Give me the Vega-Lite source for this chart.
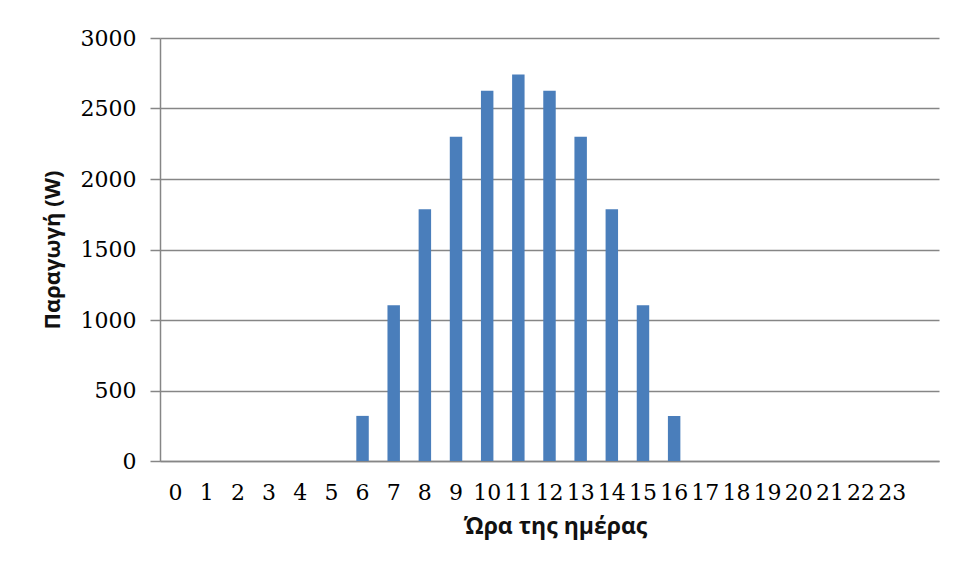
{
  "$schema": "https://vega.github.io/schema/vega-lite/v6.json",
  "autosize": {"type": "none"},
  "padding": {"left": 160, "top": 38, "right": 20, "bottom": 121},
  "width": 779,
  "height": 423,
  "background": "white",
  "data": {
    "values": [
      {"hour": 0, "power": 0}, {"hour": 1, "power": 0}, {"hour": 2, "power": 0},
      {"hour": 3, "power": 0}, {"hour": 4, "power": 0}, {"hour": 5, "power": 0},
      {"hour": 6, "power": 320}, {"hour": 7, "power": 1104}, {"hour": 8, "power": 1786},
      {"hour": 9, "power": 2300}, {"hour": 10, "power": 2626}, {"hour": 11, "power": 2742},
      {"hour": 12, "power": 2626}, {"hour": 13, "power": 2300}, {"hour": 14, "power": 1786},
      {"hour": 15, "power": 1104}, {"hour": 16, "power": 320}, {"hour": 17, "power": 0},
      {"hour": 18, "power": 0}, {"hour": 19, "power": 0}, {"hour": 20, "power": 0},
      {"hour": 21, "power": 0}, {"hour": 22, "power": 0}, {"hour": 23, "power": 0}
    ]
  },
  "mark": {"type": "bar", "color": "#4a7ebb"},
  "encoding": {
    "x": {
      "field": "hour",
      "type": "ordinal",
      "scale": {"domain": [0,1,2,3,4,5,6,7,8,9,10,11,12,13,14,15,16,17,18,19,20,21,22,23,24], "paddingInner": 0.6, "paddingOuter": 0.3},
      "axis": {
        "title": "Ώρα της ημέρας",
        "labelAngle": 0,
        "labelExpr": "datum.value == 24 ? '' : datum.label",
        "labelOverlap": false,
        "labelFont": "DejaVu Serif",
        "labelFontSize": 22,
        "labelColor": "#000000",
        "labelPadding": 21,
        "ticks": false,
        "domainColor": "#868686",
        "domainWidth": 1.5,
        "titleFont": "Open Sans",
        "titleFontSize": 23,
        "titleFontWeight": "bold",
        "titleColor": "#111111",
        "titlePadding": 12,
        "titleX": 395
      }
    },
    "y": {
      "field": "power",
      "type": "quantitative",
      "scale": {"domain": [0, 3000], "nice": false},
      "axis": {
        "title": "Παραγωγή (W)",
        "values": [0, 500, 1000, 1500, 2000, 2500, 3000],
        "format": "d",
        "grid": true,
        "gridColor": "#868686",
        "gridWidth": 1.5,
        "tickColor": "#868686",
        "tickSize": 10,
        "tickWidth": 1.5,
        "domainColor": "#868686",
        "domainWidth": 1.5,
        "labelFont": "DejaVu Serif",
        "labelFontSize": 22,
        "labelColor": "#000000",
        "labelPadding": 14,
        "titleFont": "Open Sans",
        "titleFontSize": 22,
        "titleFontWeight": "bold",
        "titleColor": "#111111",
        "titlePadding": 16
      }
    }
  },
  "config": {"view": {"stroke": null}}
}
